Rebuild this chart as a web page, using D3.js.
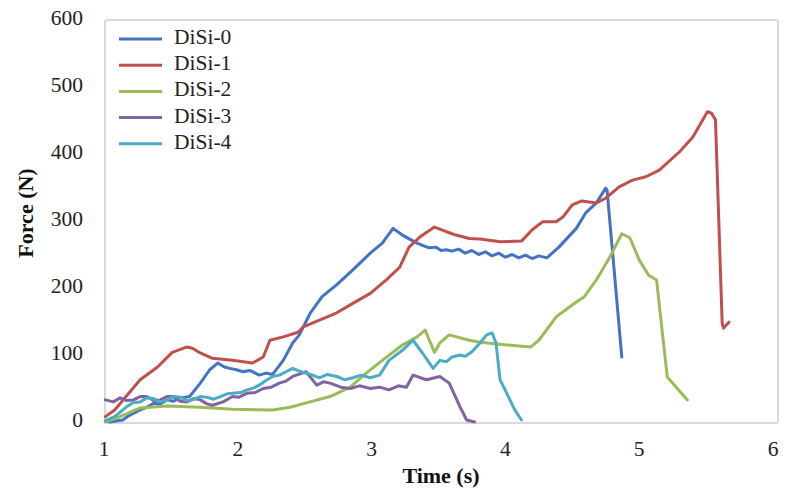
<!DOCTYPE html>
<html lang="en">
<head>
<meta charset="utf-8">
<title>Force vs Time</title>
<script src="https://cdn.jsdelivr.net/npm/d3@7"></script>
<style>
  body { margin: 0; background: #fff; }
  .tick-label { font-family: "Liberation Serif", "Times New Roman", serif; font-size: 21.5px; fill: #222; }
  .axis-title { font-family: "Liberation Serif", "Times New Roman", serif; font-size: 22px; font-weight: bold; fill: #111; }
  .legend { font-family: "Liberation Serif", "Times New Roman", serif; font-size: 21.5px; fill: #222; dominant-baseline: middle; }
  .series { fill: none; stroke-width: 3px; stroke-linejoin: round; stroke-linecap: round; }
</style>
</head>
<body>
<script>
var w = 789, h = 490;

// series names and colours
var names = ["DiSi-0", "DiSi-1", "DiSi-2", "DiSi-3", "DiSi-4"];
var colors = ["#4472C4", "#C0504D", "#9BBB59", "#8064A2", "#4BACC6"];

var xTicks = [1, 2, 3, 4, 5, 6];
var yTicks = [0, 100, 200, 300, 400, 500, 600];

// [time (s), force (N)]
var disi0 = [[1.04,0],[1.14,3],[1.19,10],[1.27,18],[1.32,22],[1.37,28],[1.42,27],[1.47,33],[1.52,31],[1.57,36],[1.64,38],[1.72,58],[1.79,78],[1.85,88],
  [1.90,82],[1.94,80],[1.99,78],[2.04,75],[2.09,77],[2.16,70],[2.21,73],[2.26,71],[2.34,92],[2.41,118],[2.46,130],[2.54,162],[2.63,187],[2.74,205],[2.86,227],
  [2.99,252],[3.08,267],[3.16,289],[3.23,279],[3.34,267],[3.39,263],[3.43,260],[3.48,261],[3.52,256],[3.56,257],[3.60,255],[3.65,258],[3.70,252],
  [3.75,256],[3.80,250],[3.85,254],[3.90,248],[3.95,252],[4.00,246],[4.05,250],[4.10,245],[4.15,249],[4.20,244],[4.25,248],
  [4.31,245],[4.40,261],[4.53,289],[4.60,312],[4.68,327],[4.75,349],[4.76,346],[4.87,97]];

var disi1 = [[1.01,8],[1.08,18],[1.27,63],[1.40,82],[1.51,104],[1.62,112],[1.66,110],[1.72,103],[1.81,95],[1.96,92],
  [2.11,88],[2.19,97],[2.24,122],[2.34,127],[2.45,134],[2.49,142],[2.61,152],[2.74,163],[2.86,177],[2.99,192],[3.11,212],
  [3.21,231],[3.28,261],[3.36,276],[3.47,291],[3.56,284],[3.63,279],[3.73,274],[3.81,273],[3.96,269],[4.12,270],[4.20,287],
  [4.28,299],[4.38,299],[4.43,306],[4.50,324],[4.57,330],[4.68,327],[4.75,334],[4.85,351],[4.95,361],[5.05,366],[5.15,376],
  [5.30,403],[5.40,425],[5.51,463],[5.54,461],[5.57,451],[5.62,148],[5.63,140],[5.67,149]];

var disi2 = [[1.01,0],[1.12,8],[1.27,21],[1.47,24],[1.72,22],[1.96,19],[2.26,18],[2.39,22],[2.54,30],[2.69,38],[2.84,52],
  [2.96,73],[3.08,92],[3.23,115],[3.34,127],[3.40,137],[3.47,104],[3.51,118],[3.58,130],[3.73,122],[3.81,119],[4.01,115],
  [4.19,112],[4.25,122],[4.38,157],[4.53,179],[4.59,187],[4.68,212],[4.78,246],[4.87,281],[4.93,275],[5.00,242],[5.07,219],
  [5.13,212],[5.16,157],[5.21,67],[5.28,51],[5.36,33]];

var disi3 = [[1.01,33],[1.07,30],[1.12,36],[1.17,32],[1.22,33],[1.27,38],[1.32,38],[1.37,32],[1.42,33],[1.47,38],[1.51,38],[1.57,31],[1.62,30],[1.67,35],[1.72,33],[1.77,27],[1.81,25],[1.89,30],
  [1.96,38],[2.01,37],[2.07,43],[2.13,44],[2.19,50],[2.25,52],[2.31,58],[2.36,61],[2.41,68],[2.51,75],[2.59,55],[2.64,60],[2.69,58],[2.77,52],[2.84,50],[2.91,54],[2.99,50],[3.06,52],[3.13,48],[3.20,54],[3.26,52],
  [3.31,70],[3.41,63],[3.51,68],[3.58,58],[3.66,23],[3.71,3],[3.77,0]];

var disi4 = [[1.01,2],[1.08,8],[1.17,23],[1.22,29],[1.27,30],[1.32,36],[1.37,35],[1.42,30],[1.47,33],[1.52,38],[1.57,37],[1.62,32],[1.66,33],[1.72,38],[1.77,37],[1.82,34],[1.87,38],[1.92,42],[1.96,43],
  [2.02,44],[2.07,48],[2.12,51],[2.16,55],[2.21,62],[2.26,68],[2.31,70],[2.36,75],[2.41,80],[2.46,76],[2.51,73],[2.56,70],[2.61,66],[2.67,71],[2.74,68],[2.80,63],[2.86,66],[2.92,70],[2.99,66],[3.06,70],
  [3.13,92],[3.23,107],[3.31,122],[3.38,103],[3.46,80],[3.51,92],[3.56,90],[3.60,97],[3.66,100],[3.70,98],[3.75,105],[3.81,118],[3.86,130],
  [3.90,133],[3.93,118],[3.96,63],[4.01,43],[4.07,18],[4.12,3]];

var series = [disi0, disi1, disi2, disi3, disi4];

var x = d3.scaleLinear().domain([1, 6]).range([104, 773]);
var y = d3.scaleLinear().domain([0, 600]).range([422, 20]);

var svg = d3.select("body").append("svg").attr("width", w).attr("height", h);

// plot frame
svg.append("rect")
   .attr("x", 105).attr("y", 20)
   .attr("width", 673).attr("height", 403)
   .attr("rx", 2)
   .attr("fill", "none").attr("stroke", "#d9d9d9").attr("stroke-width", 2);

// ticks
svg.selectAll(".ylab").data(yTicks).enter().append("text")
   .attr("class", "tick-label")
   .attr("x", 83).attr("y", function(d) { return y(d); })
   .attr("text-anchor", "end").attr("dominant-baseline", "middle")
   .text(function(d) { return d; });

svg.selectAll(".xlab").data(xTicks).enter().append("text")
   .attr("class", "tick-label")
   .attr("x", function(d) { return x(d); }).attr("y", 456)
   .attr("text-anchor", "middle")
   .text(function(d) { return d; });

// axis titles
svg.append("text").attr("class", "axis-title")
   .attr("x", 441).attr("y", 483).attr("text-anchor", "middle")
   .text("Time (s)");

svg.append("text").attr("class", "axis-title")
   .attr("transform", "translate(33,213) rotate(-90)")
   .attr("text-anchor", "middle")
   .text("Force (N)");

// lines
var line = d3.line().x(function(d) { return x(d[0]); }).y(function(d) { return y(d[1]); });

svg.append("g").selectAll("path").data(series).enter().append("path")
   .attr("class", "series")
   .attr("stroke", function(d, i) { return colors[i]; })
   .attr("d", line);

// legend
var leg = svg.append("g").selectAll("g").data(names).enter().append("g")
   .attr("transform", function(d, i) { return "translate(119," + (39 + i * 26.2) + ")"; });
leg.append("line").attr("x1", 0).attr("x2", 43).attr("y1", 0).attr("y2", 0)
   .attr("stroke", function(d, i) { return colors[i]; }).attr("stroke-width", 3);
leg.append("text").attr("class", "legend").attr("x", 55).attr("y", 0).text(function(d) { return d; });
</script>
</body>
</html>
